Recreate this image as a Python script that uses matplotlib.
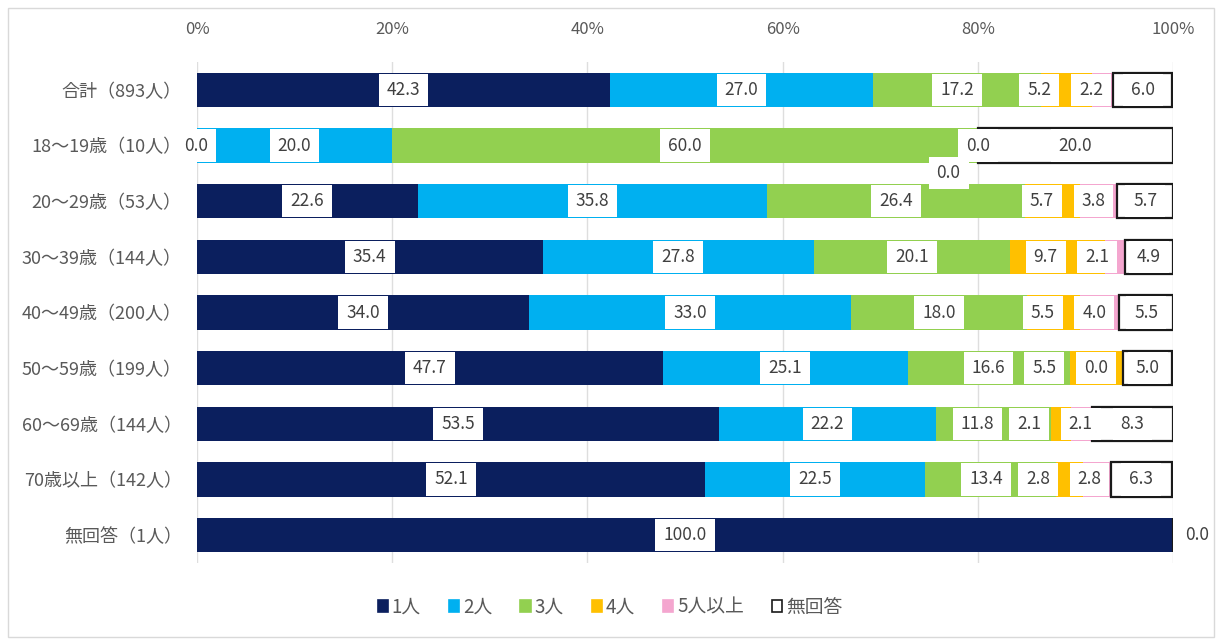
import matplotlib
matplotlib.use("Agg")
import matplotlib.pyplot as plt
from matplotlib.patches import Rectangle, Patch
import numpy as np

plt.rcParams['font.family'] = ['Noto Sans CJK JP', 'DejaVu Sans']

categories = ['合計（893人）', '18～19歳（10人）', '20～29歳（53人）', '30～39歳（144人）',
              '40～49歳（200人）', '50～59歳（199人）', '60～69歳（144人）',
              '70歳以上（142人）', '無回答（1人）']
series_names = ['1人', '2人', '3人', '4人', '5人以上', '無回答']
s1 = [42.3, 0.0, 22.6, 35.4, 34.0, 47.7, 53.5, 52.1, 100.0]
s2 = [27.0, 20.0, 35.8, 27.8, 33.0, 25.1, 22.2, 22.5, None]
s3 = [17.2, 60.0, 26.4, 20.1, 18.0, 16.6, 11.8, 13.4, None]
s4 = [5.2, 0.0, 5.7, 9.7, 5.5, 5.5, 2.1, 2.8, None]
s5 = [2.2, 0.0, 3.8, 2.1, 4.0, 0.0, 2.1, 2.8, None]
s6 = [6.0, 20.0, 5.7, 4.9, 5.5, 5.0, 8.3, 6.3, 0.0]
xticks = [0, 20, 40, 60, 80, 100]
xticklabels = ['0%', '20%', '40%', '60%', '80%', '100%']

colors = ['#0b1f5e', '#00b0f0', '#92d050', '#ffc000', '#f4a6cf', '#ffffff']
edges = ['none', 'none', 'none', 'none', 'none', '#1a1a1a']

W, H = 1220, 639
fig = plt.figure(figsize=(W / 100, H / 100), dpi=100)
fig.patch.set_facecolor('white')
fig.add_artist(Rectangle((8 / W, 2 / H), (W - 14) / W, (H - 10) / H, transform=fig.transFigure,
                         fill=False, edgecolor='#d9d9d9', linewidth=1.0))

ax_left, ax_right = 197 / W, 1173 / W
ax_top, ax_bot = 62 / H, 563 / H
ax = fig.add_axes([ax_left, 1 - ax_bot, ax_right - ax_left, ax_bot - ax_top])

data = [s1, s2, s3, s4, s5, s6]
n = len(categories)
y = np.arange(n)
left = np.zeros(n)
bar_h = 0.62
seg_centers = []
for k, s in enumerate(data):
    vals = np.array([v if v is not None else 0.0 for v in s])
    ax.barh(y, vals, left=left, height=bar_h, color=colors[k],
            edgecolor=edges[k], linewidth=1.6 if edges[k] != 'none' else 0, zorder=2)
    seg_centers.append(left + vals / 2)
    left = left + vals

ax.set_xlim(0, 100)
ax.set_ylim(8.5, -0.5)

# label positions with simple de-overlap (pushing leftward from the right end)
gap = 5.3
label_pos = {}
for i in range(n):
    idx = [k for k in range(6) if data[k][i] is not None]
    pos = [seg_centers[k][i] for k in idx]
    for j in range(len(pos) - 2, -1, -1):
        pos[j] = min(pos[j], pos[j + 1] - gap)
    for k, p in zip(idx, pos):
        label_pos[(i, k)] = [p, 0.0]

# special placements as seen in the reference
label_pos[(1, 0)] = [-0.1, 0.0]
label_pos[(1, 3)] = [80.0, 0.0]
label_pos[(1, 4)] = [77.0, 0.49]
label_pos[(1, 5)] = [90.0, 0.0]
label_pos[(8, 5)] = [102.5, 0.0]

renderer = fig.canvas.get_renderer()
px_per_unit = (ax_right - ax_left) * W / 100.0
texts = []
for (i, k), (px, dy) in label_pos.items():
    v = data[k][i]
    t = ax.text(px, i + dy, f'{v:.1f}', ha='center', va='center', fontsize=12.5, color='#404040',
                zorder=6, clip_on=False)
    texts.append((t, px, i + dy))
for t, px, yy in texts:
    bb = t.get_window_extent(renderer=renderer)
    wdata = (bb.width + 16) / px_per_unit
    ax.add_patch(Rectangle((px - wdata / 2, yy - bar_h / 2 + 0.02), wdata, bar_h - 0.04,
                           facecolor='white', edgecolor='none', zorder=5, clip_on=False))

ax.set_yticks(y)
ax.set_yticklabels(categories, fontsize=13, color='#595959')
ax.xaxis.tick_top()
ax.set_xticks(xticks)
ax.set_xticklabels(xticklabels, fontsize=12, color='#595959')
ax.tick_params(axis='both', length=0)
ax.tick_params(axis='y', pad=11)
ax.tick_params(axis='x', pad=17)
ax.grid(axis='x', color='#dedede', linewidth=1.0, zorder=0)
ax.set_axisbelow(True)
for sp in ax.spines.values():
    sp.set_visible(False)

handles = [Patch(facecolor=colors[k], edgecolor=('#1a1a1a' if k == 5 else colors[k]), linewidth=1.2)
           for k in range(6)]
fig.legend(handles, series_names, loc='center', bbox_to_anchor=(0.5, 1 - 607 / H), ncol=6,
           frameon=False, fontsize=13.5, handlelength=0.55, handleheight=0.55, handletextpad=0.2,
           columnspacing=1.5, labelcolor='#595959')

fig.savefig('out.png', dpi=100, facecolor='white')
